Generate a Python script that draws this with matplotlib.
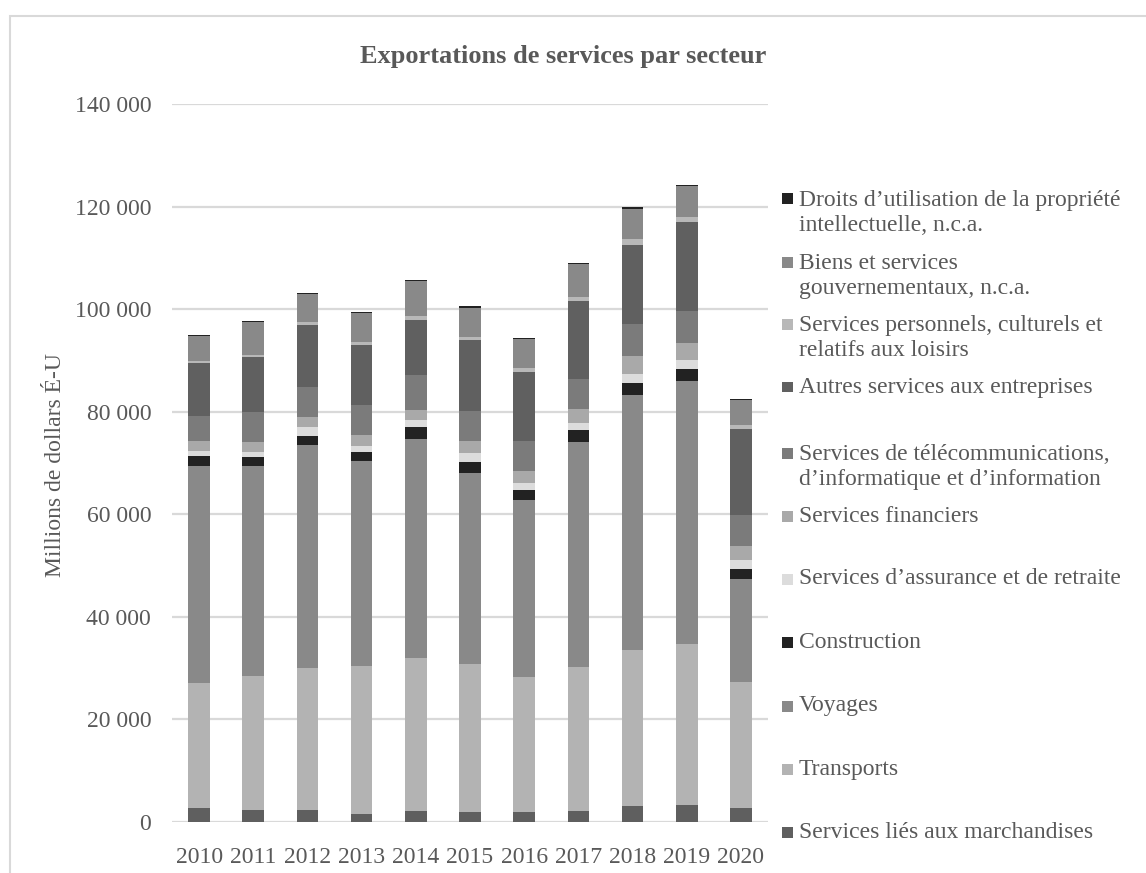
import matplotlib
matplotlib.use("Agg")
import matplotlib.pyplot as plt
import numpy as np
from matplotlib.patches import Rectangle
from matplotlib.ticker import FuncFormatter

plt.rcParams['font.family'] = ['Liberation Serif', 'DejaVu Serif']

years = ['2010', '2011', '2012', '2013', '2014', '2015', '2016', '2017', '2018', '2019', '2020']

# millions de dollars É-U, par secteur (bas de la pile en premier)
marchandises = [2660, 2270, 2270, 1620, 2080, 1880, 1950, 2080, 3050, 3245, 2660]
transports = [24470, 26220, 27840, 28820, 29920, 28880, 26280, 28160, 30500, 31475, 24730]
voyages = [42350, 40860, 43460, 39880, 42740, 37350, 34560, 43910, 49760, 51320, 19910]
construction = [1820, 1750, 1690, 1880, 2330, 2020, 1950, 2280, 2340, 2340, 2040]
assurance = [1100, 970, 1690, 1170, 1240, 1880, 1420, 1420, 1690, 1750, 1760]
financiers = [1950, 1950, 2080, 2010, 2080, 2340, 2340, 2730, 3570, 3250, 2790]
telecom = [4870, 5850, 5840, 5970, 6820, 5840, 5720, 5780, 6170, 6170, 6040]
autres = [10190, 10710, 12080, 11630, 10710, 13770, 13500, 15270, 15450, 17460, 16630]
personnels = [520, 460, 580, 650, 780, 650, 780, 770, 1110, 980, 840]
gouvernementaux = [4870, 6360, 5390, 5650, 6690, 5710, 5650, 6370, 5970, 5970, 4870]
droits = [200, 330, 200, 200, 320, 330, 260, 260, 390, 330, 260]

series = [
    ("Services liés aux marchandises", marchandises, '#5f5f5f'),
    ("Transports", transports, '#b3b3b3'),
    ("Voyages", voyages, '#898989'),
    ("Construction", construction, '#222222'),
    ("Services d\u2019assurance et de retraite", assurance, '#dcdcdc'),
    ("Services financiers", financiers, '#a9a9a9'),
    ("Services de télécommunications,\nd\u2019informatique et d\u2019information", telecom, '#7b7b7b'),
    ("Autres services aux entreprises", autres, '#606060'),
    ("Services personnels, culturels et\nrelatifs aux loisirs", personnels, '#b8b8b8'),
    ("Biens et services\ngouvernementaux, n.c.a.", gouvernementaux, '#898989'),
    ("Droits d\u2019utilisation de la propriété\nintellectuelle, n.c.a.", droits, '#222222'),
]

W, H = 1146, 873
txt = '#595959'
grid = '#d9d9d9'

fig = plt.figure(figsize=(W / 100, H / 100), dpi=100)
ax = fig.add_axes([172 / W, 1 - 822 / H, (768 - 172) / W, (822 - 104) / H])

x = np.arange(len(years))
bottom = np.zeros(len(years))
for label, vals, color in series:
    ax.bar(x, vals, width=0.4, bottom=bottom, color=color, edgecolor='none', zorder=3)
    bottom += np.array(vals)

ax.set_xlim(-0.5, len(years) - 0.5)
ax.set_ylim(0, 140000)
ax.set_yticks(np.arange(0, 140001, 20000))
ax.yaxis.set_major_formatter(FuncFormatter(lambda v, p: f"{int(v):,}".replace(",", " ")))
ax.set_xticks(x)
ax.set_xticklabels(years)
ax.tick_params(axis='both', length=0, labelsize=17, colors=txt)
ax.tick_params(axis='y', pad=15)
ax.tick_params(axis='x', pad=18)
ax.grid(axis='y', color=grid, linewidth=1.6, zorder=0)
for s in ax.spines.values():
    s.set_visible(False)

fig.text(563 / W, 1 - 57 / H, "Exportations de services par secteur", ha='center', va='center',
         fontsize=19, fontweight='bold', color=txt)
fig.text(56 / W, 1 - 465 / H, "Millions de dollars É-U", rotation=90, ha='center', va='center',
         fontsize=17, color=txt)

# légende, du haut vers le bas
legend_rows = [(198, 213), (262, 276), (324, 338), (387, 387), (453, 467),
               (516, 516), (579, 579), (642, 642), (706, 706), (769, 769), (832, 832)]
for (label, vals, color), (sq_y, tx_y) in zip(series[::-1], legend_rows):
    fig.patches.append(Rectangle((782 / W, 1 - (sq_y + 5.5) / H), 11 / W, 11 / H,
                                 transform=fig.transFigure, facecolor=color, edgecolor='none'))
    fig.text(799 / W, 1 - tx_y / H, label, ha='left', va='center', fontsize=17,
             color=txt, linespacing=1.2)

# cadre du graphique
fig.patches.append(Rectangle((10 / W, -0.1), 2, 1 - 16 / H + 0.1, transform=fig.transFigure,
                             fill=False, edgecolor=grid, linewidth=1.5))

fig.savefig('out.png', dpi=100, facecolor='white')
